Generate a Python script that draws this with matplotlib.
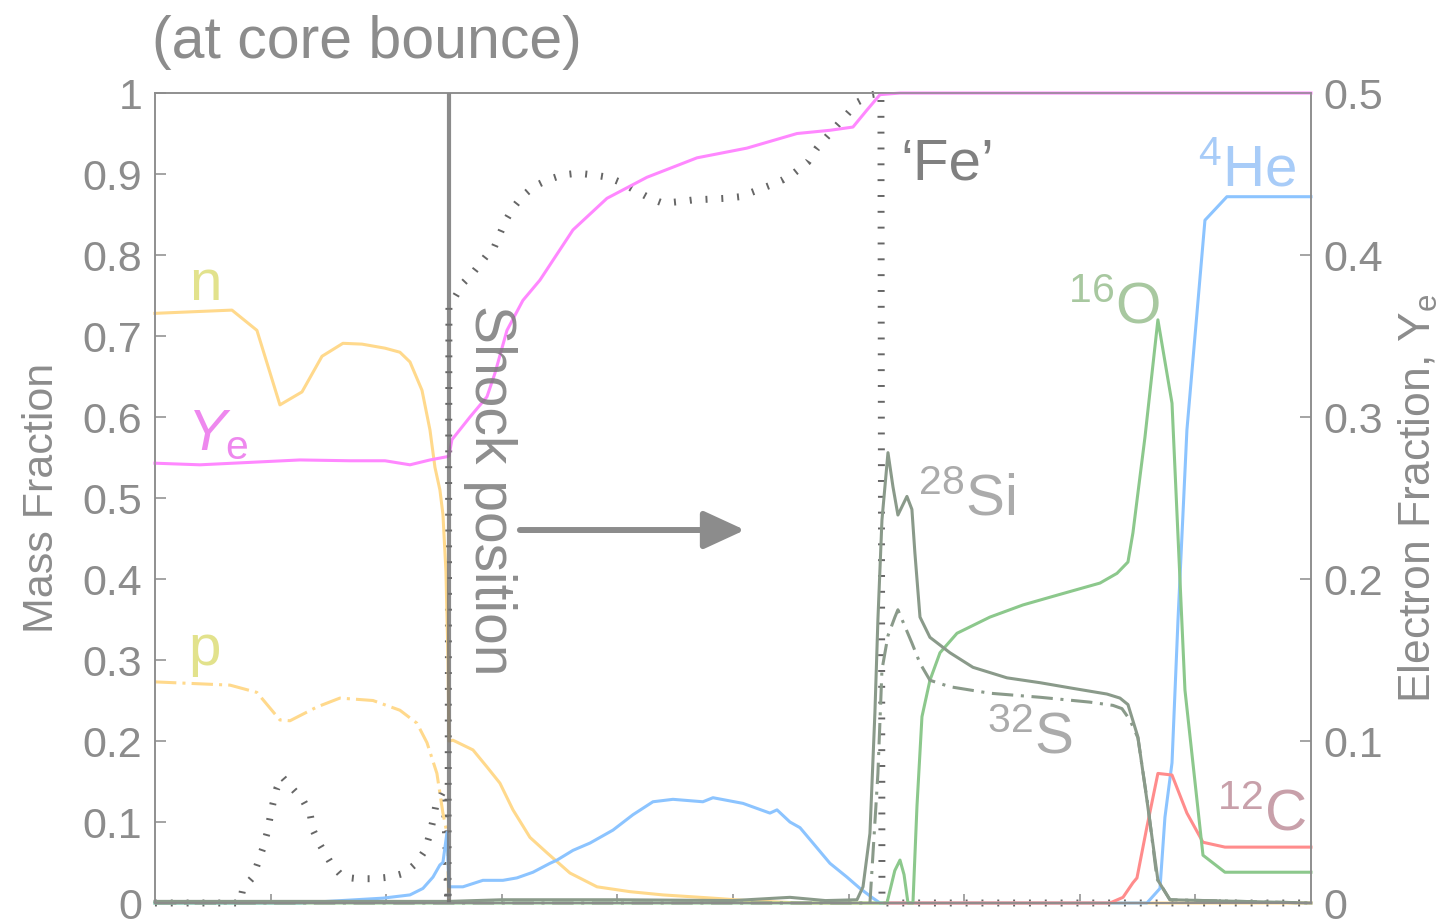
import numpy as np
import matplotlib
matplotlib.use('Agg')
from matplotlib import pyplot as plt

plt.rcParams['font.family'] = ['Liberation Sans', 'DejaVu Sans']
plt.rcParams['mathtext.fontset'] = 'custom'
plt.rcParams['mathtext.rm'] = 'Liberation Sans'
plt.rcParams['mathtext.it'] = 'Liberation Sans:italic'
plt.rcParams['mathtext.bf'] = 'Liberation Sans:bold'

# mass coordinate (arbitrary units, 0..10) and mass fractions
n_x = [0, 0.666, 0.882, 1.081, 1.272, 1.445, 1.626, 1.791, 1.990, 2.119,
       2.206, 2.310, 2.379, 2.422, 2.465, 2.491, 2.517, 2.535, 2.543, 2.578,
       2.751, 2.872, 2.984, 3.097, 3.244, 3.391, 3.590, 3.824, 4.109, 4.394,
       4.827, 5.121, 5.580, 10]
n_y = [0.728, 0.732, 0.707, 0.615, 0.631, 0.675, 0.691, 0.690, 0.685, 0.680,
       0.668, 0.633, 0.584, 0.538, 0.510, 0.480, 0.410, 0.300, 0.200, 0.201,
       0.189, 0.168, 0.148, 0.115, 0.081, 0.062, 0.037, 0.020, 0.014, 0.010,
       0.006, 0.003, 0.0, 0.0]

p_x = [0, 0.649, 0.882, 1.081, 1.168, 1.401, 1.600, 1.886, 2.119, 2.266,
       2.353, 2.439, 2.491, 2.526, 2.543]
p_y = [0.273, 0.269, 0.260, 0.226, 0.225, 0.242, 0.253, 0.250, 0.238, 0.222,
       0.198, 0.160, 0.111, 0.086, 0.0]

# electron fraction (right axis)
ye_x = [0, 0.389, 0.822, 1.254, 1.687, 1.990, 2.206, 2.379, 2.526, 2.543,
        2.569, 2.725, 2.872, 2.941, 3.045, 3.183, 3.330, 3.616, 3.910, 4.256,
        4.689, 5.121, 5.554, 5.839, 6.038, 6.159, 6.272, 6.445, 10]
ye = [0.2715, 0.2705, 0.272, 0.2735, 0.273, 0.273, 0.2705, 0.2735, 0.2755, 0.276,
      0.286, 0.300, 0.3125, 0.327, 0.3535, 0.372, 0.3845, 0.4155, 0.435, 0.448,
      0.460, 0.466, 0.475, 0.477, 0.479, 0.4895, 0.499, 0.5, 0.5]

# iron group ('Fe'), dotted
fe_x = [0, 0.735, 0.761, 0.848, 0.891, 0.934, 0.969, 0.995, 1.021, 1.055,
        1.099, 1.185, 1.280, 1.341, 1.367, 1.427, 1.531, 1.626, 1.756, 1.886,
        2.033, 2.163, 2.266, 2.336, 2.379, 2.405, 2.431, 2.500, 2.535, 2.543,
        2.595, 2.664, 2.751, 2.872, 2.924, 3.028, 3.097, 3.175, 3.270, 3.400,
        3.529, 3.659, 3.789, 3.919, 4.040, 4.152, 4.282, 4.394, 4.542, 4.654,
        4.801, 4.931, 5.061, 5.173, 5.320, 5.433, 5.536, 5.649, 5.727, 5.813,
        5.900, 5.995, 6.081, 6.202, 6.280, 6.289, 10]
fe_y = [0, 0, 0.018, 0.032, 0.050, 0.068, 0.086, 0.105, 0.123, 0.142,
        0.156, 0.142, 0.127, 0.111, 0.090, 0.072, 0.047, 0.032, 0.030, 0.030,
        0.032, 0.037, 0.050, 0.065, 0.086, 0.102, 0.121, 0.140, 0.0, 0.735,
        0.748, 0.765, 0.778, 0.800, 0.806, 0.841, 0.858, 0.872, 0.884, 0.893,
        0.899, 0.901, 0.899, 0.896, 0.889, 0.880, 0.870, 0.864, 0.866, 0.868,
        0.869, 0.870, 0.872, 0.878, 0.886, 0.893, 0.902, 0.915, 0.932, 0.946,
        0.960, 0.975, 0.989, 0.998, 1.0, 0.0, 0.0]

he_x = [0, 1.254, 1.972, 2.206, 2.318, 2.405, 2.465, 2.491, 2.526, 2.543,
        2.578, 2.664, 2.837, 3.010, 3.131, 3.270, 3.417, 3.478, 3.616, 3.763,
        3.962, 4.135, 4.308, 4.481, 4.740, 4.827, 5.087, 5.320, 5.381, 5.493,
        5.580, 5.692, 5.839, 5.986, 6.099, 6.211, 6.272, 8.581, 8.694, 8.737,
        8.798, 8.850, 8.927, 9.083, 9.273, 10]
he_y = [0, 0, 0.006, 0.010, 0.018, 0.032, 0.047, 0.050, 0.087, 0.020,
        0.020, 0.020, 0.028, 0.028, 0.031, 0.038, 0.049, 0.053, 0.065, 0.074,
        0.090, 0.109, 0.125, 0.128, 0.125, 0.130, 0.123, 0.111, 0.115, 0.100,
        0.093, 0.074, 0.049, 0.032, 0.018, 0.006, 0.0, 0.0, 0.018, 0.106,
        0.173, 0.350, 0.584, 0.843, 0.872, 0.872]

o_x = [0, 6.332, 6.40, 6.445, 6.48, 6.514, 6.557, 6.592, 6.635, 6.704,
       6.791, 6.938, 7.223, 7.509, 7.803, 8.175, 8.322, 8.417, 8.460, 8.503,
       8.564, 8.676, 8.798, 8.910, 9.066, 9.256, 10]
o_y = [0, 0, 0.040, 0.053, 0.035, 0, 0, 0.12, 0.23, 0.275,
       0.309, 0.333, 0.353, 0.368, 0.380, 0.395, 0.407, 0.421, 0.457, 0.506,
       0.575, 0.720, 0.617, 0.263, 0.059, 0.038, 0.038]

si_x = [0, 2.543, 3.0, 4.0, 5.0, 5.493, 5.8, 6.073, 6.125, 6.185,
        6.228, 6.254, 6.289, 6.341, 6.384, 6.427, 6.505, 6.548, 6.574, 6.618,
        6.704, 6.877, 7.076, 7.370, 7.656, 7.941, 8.235, 8.348, 8.417, 8.503,
        8.581, 8.676, 8.780, 10]
si_y = [0.002, 0.002, 0.004, 0.004, 0.003, 0.007, 0.003, 0.004, 0.020, 0.086,
        0.235, 0.350, 0.473, 0.556, 0.514, 0.479, 0.502, 0.486, 0.432, 0.353,
        0.328, 0.309, 0.291, 0.278, 0.272, 0.265, 0.258, 0.253, 0.245, 0.205,
        0.127, 0.028, 0.004, 0.0]

s_x = [0, 6.185, 6.254, 6.289, 6.341, 6.401, 6.427, 6.548, 6.618, 6.704,
       6.877, 7.223, 7.656, 8.088, 8.287, 8.365, 8.434, 8.503, 8.590, 8.668,
       8.780, 10]
s_y = [0, 0, 0.160, 0.288, 0.330, 0.353, 0.362, 0.321, 0.296, 0.275,
       0.267, 0.259, 0.254, 0.248, 0.244, 0.240, 0.226, 0.204, 0.120, 0.030,
       0.004, 0]

c_x = [6.315, 8.261, 8.374, 8.460, 8.495, 8.581, 8.676, 8.798, 8.927, 9.066,
       9.256, 10]
c_y = [0, 0, 0.007, 0.025, 0.031, 0.094, 0.160, 0.158, 0.111, 0.075,
       0.069, 0.069]

shock_x = 2.543

gray = '#8c8c8c'
yellow = '#ffd98c'
lw = 2.2

fig = plt.figure(figsize=(14.55, 9.22), dpi=100)
ax = fig.add_axes([0.1065, 0.0206, 0.7945, 0.8785])
ax2 = ax.twinx()

ax.plot(fe_x, fe_y, color='#666666', lw=5, ls=(0, (0.28, 2.0)),
        dash_capstyle='butt', clip_on=False)
ax.plot(n_x, n_y, color=yellow, lw=lw, clip_on=False)
ax.plot(p_x, p_y, color=yellow, lw=lw, ls=(0, (7, 2, 1, 2)), clip_on=False)
ax.plot(he_x, he_y, color='#8cc4ff', lw=lw, clip_on=False)
ax.plot(c_x, c_y, color='#ff8c8c', lw=lw, clip_on=False)
ax.plot(o_x, o_y, color='#8cc88c', lw=lw, clip_on=False)
ax.plot(s_x, s_y, color='#8a9a8a', lw=lw, ls=(0, (7, 2.5, 1, 2.5)), clip_on=False)
ax.plot(si_x, si_y, color='#8a9a8a', lw=lw, clip_on=False)

ax2.plot(ye_x, ye, color='#ff88ff', lw=lw, clip_on=False)
ax2.axvline(shock_x, color='#6e6e6e', lw=3, alpha=0.8)

ax.set_xlim(0, 10)
ax.set_ylim(0, 1)
ax2.set_ylim(0, 0.5)

ax.set_xticks(np.arange(1, 10))
ax.set_xticklabels([])
yt = np.round(np.arange(0, 1.01, 0.1), 1)
ax.set_yticks(yt)
ax.set_yticklabels(['0'] + ['%.1f' % v for v in yt[1:-1]] + ['1'])
yt2 = np.round(np.arange(0, 0.51, 0.1), 1)
ax2.set_yticks(yt2)
ax2.set_yticklabels(['0'] + ['%.1f' % v for v in yt2[1:]])

ax.tick_params(axis='x', direction='in', length=6.5, width=1.1, colors=gray)
ax.tick_params(axis='y', direction='in', length=8, width=1.1, colors=gray,
               labelsize=31, pad=9)
ax2.tick_params(axis='y', direction='in', length=8, width=1.1, colors=gray,
                labelsize=31, pad=9)
for a in (ax, ax2):
    for sp in a.spines.values():
        sp.set_color(gray)
        sp.set_linewidth(1.1)

ax.text(-0.098, 0.5, 'Mass Fraction', transform=ax.transAxes, rotation=90,
        ha='center', va='center', fontsize=31, color=gray)
ax.text(1.093, 0.5, r'Electron Fraction, Y$_{\mathregular{e}}$', transform=ax.transAxes,
        rotation=90, ha='center', va='center', fontsize=32, color=gray)
fig.text(152 / 1455, 0.937, '(at core bounce)', fontsize=42.5, color=gray, va='baseline')

# curve labels
ax.text(0.433, 0.744, 'n', fontsize=42, color='#e2e28c', ha='center', va='baseline')
ax.text(0.433, 0.294, 'p', fontsize=42, color='#e2e28c', ha='center', va='baseline')
ax.text(0.277, 0.559, r'$\mathit{Y}_{\mathregular{e}}$', fontsize=42, color='#ee88ee',
        ha='left', va='baseline')
ax2.text(2.898, 0.369, 'Shock position', fontsize=41, color='#7a7a7a', alpha=0.85,
         rotation=-90, ha='center', va='top')
ax.text(6.450, 0.893, '\u2018Fe\u2019', fontsize=42, color='#808080', va='baseline')
ax.text(6.600, 0.479, r'$^{28}$Si', fontsize=42, color='#ababab', va='baseline')
ax.text(7.200, 0.185, r'$^{32}$S', fontsize=42, color='#ababab', va='baseline')
ax.text(7.900, 0.716, r'$^{16}$O', fontsize=42, color='#a8c8a0', va='baseline')
ax.text(9.020, 0.886, r'$^{4}$He', fontsize=42, color='#a8ccf8', va='baseline')
ax.text(9.190, 0.090, r'$^{12}$C', fontsize=42, color='#c8a0aa', va='baseline')

ax.annotate('', xy=(5.104, 0.4605), xytext=(3.157, 0.4605),
            arrowprops=dict(arrowstyle='-|>,head_length=1.26,head_width=0.58',
                            lw=4.3, color=gray, mutation_scale=20,
                            shrinkA=0, shrinkB=0))

fig.savefig('out.png', dpi=100)
